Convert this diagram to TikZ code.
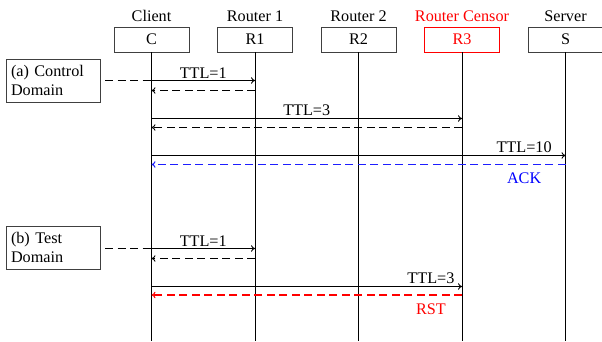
\documentclass[tikz,border=0pt]{standalone}
\usepackage{fontspec}
\setmainfont{Liberation Serif}
\usetikzlibrary{arrows.meta}
\definecolor{ackblue}{RGB}{30,30,255}
\begin{document}
\begin{tikzpicture}[x=1pt,y=-1pt,
  font=\fontsize{16.2}{19.5}\selectfont,
  entity/.style={draw=black!75, line width=0.9pt, minimum width=75pt, minimum height=25pt, inner sep=0pt},
  title/.style={inner sep=0pt, anchor=base},
  life/.style={line width=1pt},
  msg/.style={line width=0.9pt, -{To[length=4pt,width=6.5pt]}},
  reply/.style={msg, dash pattern=on 8pt off 4.5pt},
  lead/.style={line width=0.9pt, dash pattern=on 8pt off 4.5pt},
  dombox/.style={draw=black!75, line width=0.9pt, text width=84pt, align=left, inner xsep=5pt, inner ysep=2pt, minimum height=43pt},
  lbl/.style={inner sep=2pt}
]
\useasboundingbox (0,0) rectangle (602,341);

% entities
\node[entity] (C)  at (151.5,39.5) {C};
\node[entity] (R1) at (255,39.5) {R1};
\node[entity] (R2) at (358.5,39.5) {R2};
\node[entity, draw=red, text=red] (R3) at (462,39.5) {R3};
\node[entity] (S)  at (565.5,39.5) {S};

\node[title] (tC)  at (151.5,21) {Client};
\node[title] (tR1) at (255,21) {Router 1};
\node[title] (tR2) at (358.5,21) {Router 2};
\node[title, text=red] (tR3) at (462,21) {Router Censor};
\node[title] (tS)  at (565.5,21) {Server};

% lifeline ends
\coordinate (Ce)  at (151.5,341);
\coordinate (R1e) at (255,341);
\coordinate (R2e) at (358.5,341);
\coordinate (R3e) at (462,341);
\coordinate (Se)  at (565.5,341);
\foreach \n in {C,R1,R2,R3,S} \draw[life] (\n.south) -- (\n e);

% domain boxes
\node[dombox] (da) at (53,80.5) {(a) Control\\Domain};
\node[dombox] (db) at (53,247.5) {(b) Test\\Domain};

% message points
\coordinate (Ca0) at (151.5,80.5);  \coordinate (R1a0) at (255,80.5);
\coordinate (Ca1) at (151.5,90.5);  \coordinate (R1a1) at (255,90.5);
\coordinate (Ca2) at (151.5,118.5); \coordinate (R3a2) at (462,118.5);
\coordinate (Ca3) at (151.5,127.5); \coordinate (R3a3) at (462,127.5);
\coordinate (Ca4) at (151.5,155.5); \coordinate (Sa4)  at (565.5,155.5);
\coordinate (Ca5) at (151.5,164.5); \coordinate (Sa5)  at (565.5,164.5);
\coordinate (Cb0) at (151.5,248.5); \coordinate (R1b0) at (255,248.5);
\coordinate (Cb1) at (151.5,258.5); \coordinate (R1b1) at (255,258.5);
\coordinate (Cb2) at (151.5,286.5); \coordinate (R3b2) at (462,286.5);
\coordinate (Cb3) at (151.5,295); \coordinate (R3b3) at (462,295);
\coordinate (da0) at (105,80.5);
\coordinate (db0) at (105,248.5);

% (a) control domain
\draw[lead] (da0) -- (Ca0);
\draw[msg] (Ca0) -- node[lbl, above] {TTL=1} (R1a0);
\draw[reply] (R1a1) -- (Ca1);
\draw[msg] (Ca2) -- node[lbl, above] {TTL=3} (R3a2);
\draw[reply] (R3a3) -- (Ca3);
\draw[msg] (Ca4) -- node[lbl, above, pos=0.9] {TTL=10} (Sa4);
\draw[reply, draw=ackblue, line width=1pt] (Sa5) -- node[lbl, below=6pt, pos=0.1, text=blue] {ACK} (Ca5);

% (b) test domain
\draw[lead] (db0) -- (Cb0);
\draw[msg] (Cb0) -- node[lbl, above] {TTL=1} (R1b0);
\draw[reply] (R1b1) -- (Cb1);
\draw[msg] (Cb2) -- node[lbl, above, pos=0.9] {TTL=3} (R3b2);
\draw[reply, red, line width=1.05pt] (R3b3) -- node[lbl, below=6pt, pos=0.1] {RST} (Cb3);
\end{tikzpicture}
\end{document}
